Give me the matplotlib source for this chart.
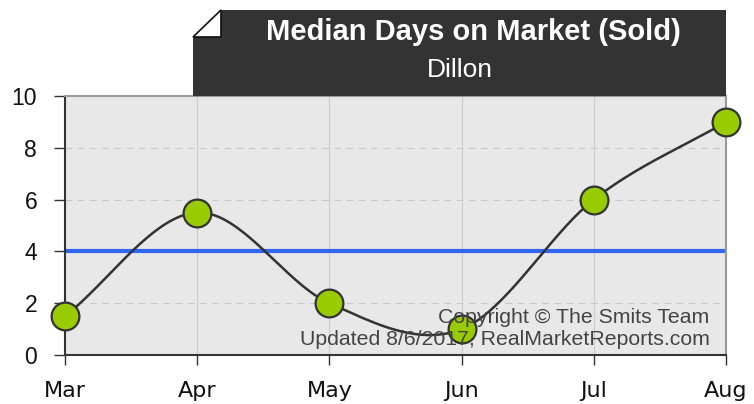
import numpy as np
import matplotlib.pyplot as plt
from matplotlib.patches import Polygon

# ==========================
# DATA
# ==========================

months = ["Mar", "Apr", "May", "Jun", "Jul", "Aug"]
median_days = [1.5, 5.5, 2, 1, 6, 9]
average_line = 4

title = "Median Days on Market (Sold)"
subtitle = "Dillon"
credit_lines = ["Copyright \u00a9 The Smits Team", "Updated 8/6/2017, RealMarketReports.com"]

# ==========================
# SMOOTH CURVE (Catmull-Rom)
# ==========================

def catmull_rom(xs, ys, n=40):
    px = np.concatenate([[2 * xs[0] - xs[1]], xs, [2 * xs[-1] - xs[-2]]])
    py = np.concatenate([[2 * ys[0] - ys[1]], ys, [2 * ys[-1] - ys[-2]]])
    out_x, out_y = [], []
    for i in range(1, len(px) - 2):
        t = np.linspace(0, 1, n)
        for p, out in ((px, out_x), (py, out_y)):
            p0, p1, p2, p3 = p[i - 1], p[i], p[i + 1], p[i + 2]
            out.extend(0.5 * ((2 * p1) + (-p0 + p2) * t
                              + (2 * p0 - 5 * p1 + 4 * p2 - p3) * t ** 2
                              + (-p0 + 3 * p1 - 3 * p2 + p3) * t ** 3))
    return np.array(out_x), np.array(out_y)

x = np.arange(len(months), dtype=float)
y = np.array(median_days, dtype=float)
cx, cy = catmull_rom(x, y)

# ==========================
# CHART
# ==========================

fig = plt.figure(figsize=(7.54, 4.04), dpi=100)
ax = fig.add_axes([65 / 754, 49 / 404, 661 / 754, 259 / 404])
ax.set_facecolor("#e8e8e8")

ax.set_xlim(0, len(months) - 1)
ax.set_ylim(0, 10)

ax.set_yticks([0, 2, 4, 6, 8, 10])
ax.set_xticks(x)
ax.set_xticklabels(months, fontsize=16, family="DejaVu Sans", color="#111111")
for lab in ax.get_yticklabels():
    lab.set_family("Liberation Sans")
    lab.set_fontsize(16.5)
    lab.set_color("#111111")

ax.tick_params(axis="y", length=8, width=1, color="#333333", pad=12)
ax.tick_params(axis="x", length=7, width=1, color="#333333", pad=12)

for v in [2, 4, 6, 8]:
    ax.axhline(v, color="#c8c8c8", lw=0.8, ls=(0, (6, 5)), zorder=1)
for v in x:
    ax.axvline(v, color="#cccccc", lw=0.8, zorder=1)

for side in ["left", "bottom"]:
    ax.spines[side].set_color("#333333")
    ax.spines[side].set_linewidth(1.5)
for side in ["top", "right"]:
    ax.spines[side].set_color("#999999")
    ax.spines[side].set_linewidth(1.5)

ax.axhline(average_line, color="#3366ee", lw=3, zorder=2)
ax.plot(cx, cy, color="#333333", lw=1.8, zorder=3)
ax.plot(x, y, "o", ms=20, mfc="#99cc00", mec="#333333", mew=1.6,
        zorder=4, clip_on=False)

ax.text(0.975, 0.143, credit_lines[0], transform=ax.transAxes, ha="right",
        va="center", fontsize=15.3, family="Liberation Sans", color="#444444", zorder=5)
ax.text(0.975, 0.058, credit_lines[1], transform=ax.transAxes, ha="right",
        va="center", fontsize=15.3, family="Liberation Sans", color="#444444", zorder=5)

# ==========================
# TITLE BOX
# ==========================

W, H = 754, 404
def fx(px):
    return px / W
def fy(py):
    return 1 - py / H

box = Polygon([(fx(221), fy(10)), (fx(726), fy(10)), (fx(726), fy(96)),
               (fx(193), fy(96)), (fx(193), fy(37))],
              closed=True, transform=fig.transFigure, facecolor="#333333",
              edgecolor="none", zorder=10)
fig.patches.append(box)
corner = Polygon([(fx(221), fy(10)), (fx(221), fy(37)), (fx(193), fy(37))],
                 closed=True, transform=fig.transFigure, facecolor="white",
                 edgecolor="#111111", lw=1.2, zorder=11)
fig.patches.append(corner)

fig.text(fx(473), fy(32), title, ha="center", va="center", fontsize=21,
         fontweight="bold", family="Liberation Sans", color="white", zorder=12)
fig.text(fx(460), fy(70), subtitle, ha="center", va="center", fontsize=19,
         family="Liberation Sans", color="white", zorder=12)

plt.savefig("out.png", dpi=100)
